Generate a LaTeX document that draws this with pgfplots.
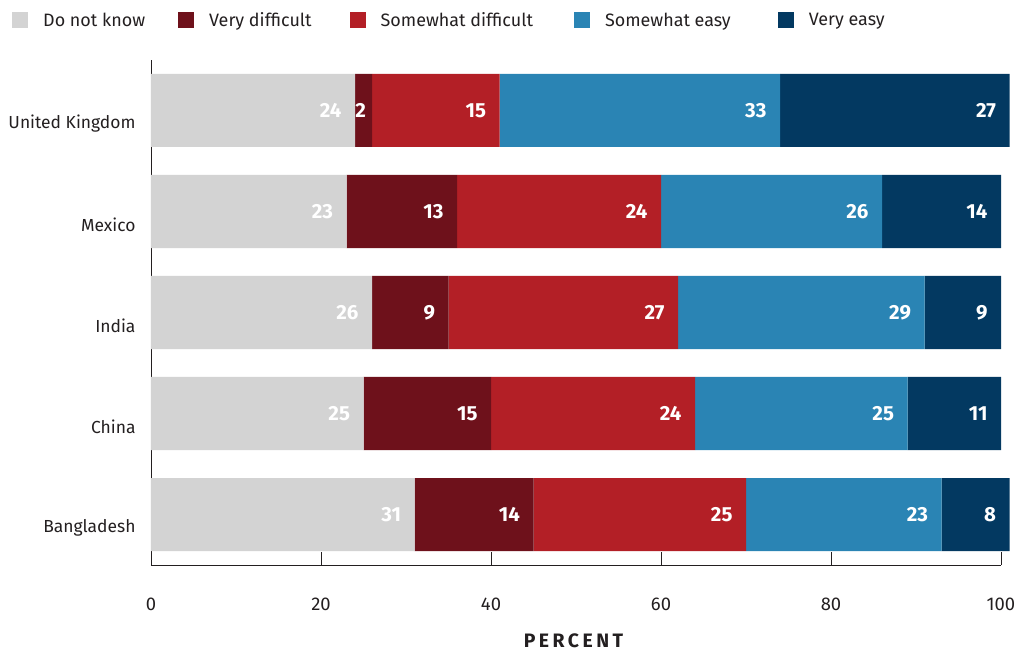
\documentclass[border=0pt]{standalone}
\usepackage{fontspec}
\setmainfont{Fira Sans}
\usepackage{pgfplots}
\usepackage{pgfplotstable}
\pgfplotsset{compat=1.18}
\definecolor{cdk}{HTML}{D3D3D3}
\definecolor{cvd}{HTML}{6E111B}
\definecolor{csd}{HTML}{B31F26}
\definecolor{cse}{HTML}{2A84B4}
\definecolor{cve}{HTML}{033961}
\definecolor{txt}{HTML}{231F20}
\pgfplotstableread{
y dk vd sd se ve
0 31 14 25 23 8
1 25 15 24 25 11
2 26 9 27 29 9
3 23 13 24 26 14
4 24 2 15 33 27
}\data
\begin{document}
\begin{tikzpicture}
\begin{axis}[
  xbar stacked,
  scale only axis,
  width=850bp, height=505bp,
  xmin=0, xmax=100, ymin=-0.5, ymax=4.5,
  enlargelimits=false,
  clip=false,
  bar width=73bp,
  axis x line*=bottom, axis y line*=left,
  axis line style={line width=0.9bp, color=txt},
  xtick={0,20,...,100},
  tick align=inside,
  major tick length=13bp,
  x tick style={line width=0.9bp, color=txt},
  ytick={0,1,2,3,4},
  y tick style={draw=none},
  yticklabels={Bangladesh,China,India,Mexico,United Kingdom},
  yticklabel style={font=\fontsize{17.5}{20}\selectfont, text=txt, yshift=-13bp, xshift=-12bp},
  xticklabel style={font=\fontsize{18.5}{20}\selectfont, text=txt, yshift=-29bp, /pgf/number format/assume math mode=true},
  xlabel={\addfontfeature{LetterSpace=18}\bfseries PERCENT},
  xlabel style={font=\fontsize{19.5}{20}\selectfont, text=txt, at={(axis description cs:0.497,0)}, anchor=center, yshift=-76bp},
  legend columns=5,
  legend style={at={(-0.1635,1.0)}, anchor=south west, yshift=30bp, draw=none, fill=none,
    inner sep=0pt, font=\fontsize{18}{20}\selectfont, text=txt,
    /tikz/every even column/.append style={column sep=0bp}},
  legend image code/.code={\fill[#1] (0bp,-8bp) rectangle (16bp,8bp);},
  legend cell align=left,
  nodes near coords={\pgfmathprintnumber[assume math mode=true]{\pgfplotspointmeta}},
  point meta=explicit,
  every node near coord/.append style={font=\fontsize{20.5}{22}\selectfont\bfseries, text=white, anchor=east,
    xshift={(\val<5 ? 6 : \val*4.25-10)*1bp}},
]
\coordinate (O) at (rel axis cs:0,0);
\addplot[fill=cdk, draw=none, visualization depends on={\thisrow{dk} \as \val}] table[x=dk, y=y, meta=dk] {\data};
\addlegendentry{\hspace{13bp}Do not know\rule{31bp}{0pt}}
\addplot[fill=cvd, draw=none, visualization depends on={\thisrow{vd} \as \val}] table[x=vd, y=y, meta=vd] {\data};
\addlegendentry{\hspace{13bp}Very difficult\rule{36bp}{0pt}}
\addplot[fill=csd, draw=none, visualization depends on={\thisrow{sd} \as \val}] table[x=sd, y=y, meta=sd] {\data};
\addlegendentry{\hspace{13bp}Somewhat difficult\rule{39bp}{0pt}}
\addplot[fill=cse, draw=none, visualization depends on={\thisrow{se} \as \val}] table[x=se, y=y, meta=se] {\data};
\addlegendentry{\hspace{13bp}Somewhat easy\rule{45bp}{0pt}}
\addplot[fill=cve, draw=none, visualization depends on={\thisrow{ve} \as \val}] table[x=ve, y=y, meta=ve] {\data};
\addlegendentry{\hspace{13bp}Very easy}
\end{axis}
\pgfresetboundingbox
\useasboundingbox ([xshift=-151bp, yshift=-89bp]O) rectangle ([xshift=872bp, yshift=565bp]O);
\end{tikzpicture}
\end{document}
